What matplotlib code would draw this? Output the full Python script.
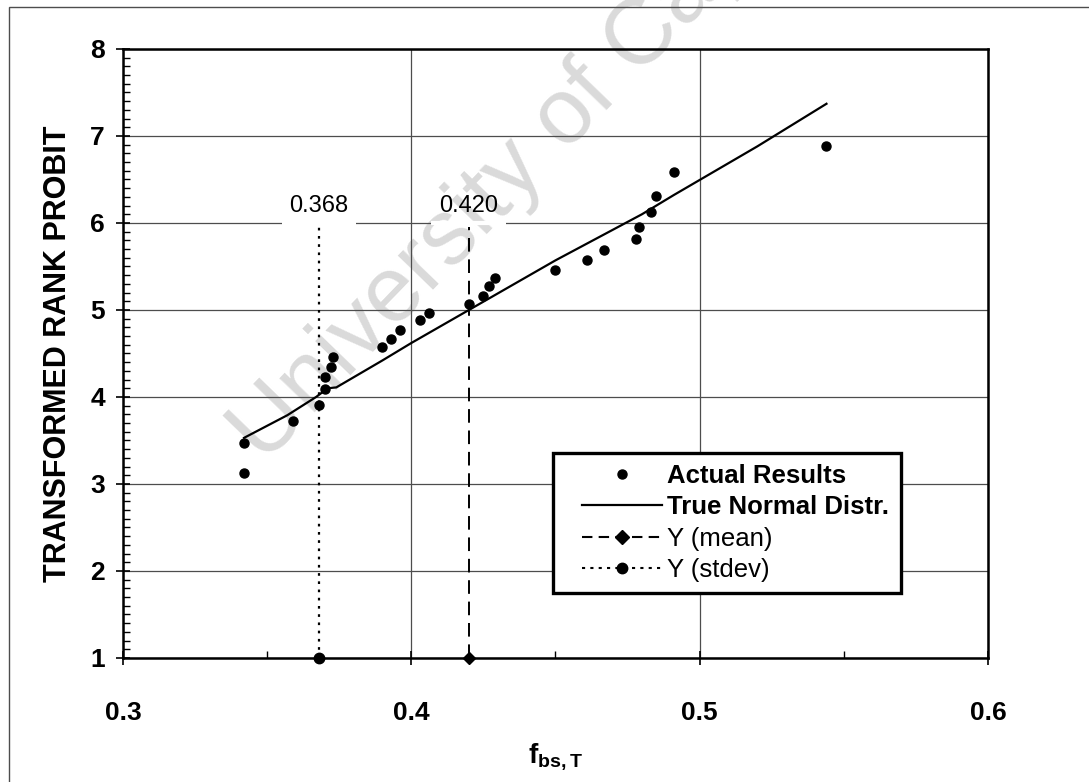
import numpy as np
import matplotlib
matplotlib.use('Agg')
import matplotlib.pyplot as plt
from matplotlib.lines import Line2D
from matplotlib.legend_handler import HandlerLine2D
from matplotlib.patches import Rectangle

plt.rcParams['font.family'] = ['Liberation Sans', 'DejaVu Sans']
plt.rcParams['mathtext.fontset'] = 'custom'
plt.rcParams['mathtext.rm'] = 'Liberation Sans'
plt.rcParams['mathtext.bf'] = 'Liberation Sans:bold'

# actual results (fbs,T vs transformed rank probit)
actual_x = [0.342, 0.342, 0.359, 0.368, 0.370, 0.370, 0.372, 0.373, 0.390, 0.393,
            0.396, 0.403, 0.406, 0.420, 0.425, 0.427, 0.429, 0.450, 0.461, 0.467,
            0.478, 0.479, 0.483, 0.485, 0.491, 0.544]
actual_y = [3.13, 3.47, 3.72, 3.91, 4.09, 4.23, 4.35, 4.46, 4.58, 4.67,
            4.77, 4.88, 4.97, 5.07, 5.16, 5.28, 5.37, 5.46, 5.58, 5.69,
            5.81, 5.95, 6.13, 6.31, 6.58, 6.89]

# true normal distribution line
normal_x = [0.342, 0.357, 0.367, 0.371, 0.374, 0.390, 0.400, 0.420, 0.430,
            0.450, 0.480, 0.491, 0.520, 0.544]
normal_y = [3.53, 3.79, 4.00, 4.10, 4.11, 4.42, 4.62, 5.00, 5.19,
            5.57, 6.10, 6.32, 6.88, 7.37]

mean_val = 0.420
stdev_val = 0.368
marker_y = [1, 5.95]

fig = plt.figure(figsize=(10.89, 7.82), dpi=100)
ax = fig.add_axes([0.1129, 0.1586, 0.7943, 0.7788])
ax.patch.set_alpha(0)

ax.set_xlim(0.3, 0.6)
ax.set_ylim(1, 8)
ax.set_xticks([0.3, 0.4, 0.5, 0.6])
ax.set_xticks([0.35, 0.45, 0.55], minor=True)
ax.set_yticks(range(1, 9))
ax.set_yticks(np.arange(1, 8.01, 0.1), minor=True)
ax.grid(True, which='major', color='0.3', linewidth=0.9)
ax.set_axisbelow(True)

ax.tick_params(which='major', direction='inout', length=10, width=1.2)
ax.tick_params(which='minor', direction='in', length=5, width=1.0)
ax.tick_params(axis='x', which='major', pad=26, labelsize=19)
ax.tick_params(axis='y', which='major', pad=8, labelsize=19)
ax.set_xticklabels(['0.3', '0.4', '0.5', '0.6'], fontweight='bold')
ax.set_yticklabels([str(i) for i in range(1, 9)], fontweight='bold')
for s in ax.spines.values():
    s.set_linewidth(1.8)

ax.plot(normal_x, normal_y, color='black', linewidth=1.6, zorder=3)
ax.plot(actual_x, actual_y, 'o', color='black', markersize=6.5, zorder=4)
ax.plot([mean_val, mean_val], marker_y, color='black', linestyle=(0, (7, 4)),
        linewidth=1.4, marker='D', markersize=6.5, markevery=[0], zorder=3,
        clip_on=False)
ax.plot([stdev_val, stdev_val], marker_y, color='black', linestyle=(0, (1.2, 2.5)),
        linewidth=1.6, marker='o', markersize=7.5, markevery=[0], zorder=3,
        clip_on=False)

# data labels: gridline is broken where the label box sits
for v in [stdev_val, mean_val]:
    ax.plot([v - 0.013, v + 0.013], [6, 6], color='white', linewidth=3, zorder=0.8,
            solid_capstyle='butt')
    ax.text(v, 6.2, '%.3f' % v, ha='center', va='center', fontsize=17, zorder=3)

ax.set_ylabel('TRANSFORMED RANK PROBIT', fontsize=22, fontweight='bold', labelpad=12)
ax.set_xlabel(r'$\mathbf{f}_{\mathbf{bs,T}}$', fontsize=20, labelpad=12)

handles = [
    Line2D([], [], color='black', marker='o', linestyle='none', markersize=6.5),
    Line2D([], [], color='black', linewidth=1.6),
    Line2D([], [], color='black', linestyle=(0, (5, 3)), marker='D', markersize=7),
    Line2D([], [], color='black', linestyle=(0, (1.5, 2.5)), marker='o', markersize=7.5),
]
labels = ['Actual Results', 'True Normal Distr.', 'Y (mean)', 'Y (stdev)']
leg = ax.legend(handles, labels, loc='upper left', bbox_to_anchor=(0.497, 0.337),
                fontsize=18.5, frameon=True, fancybox=False, framealpha=1,
                edgecolor='black', handlelength=3.8, handletextpad=0.2,
                labelspacing=0.28, borderpad=0.45, borderaxespad=0,
                handler_map={Line2D: HandlerLine2D(xpad=0.7)})
leg.get_frame().set_linewidth(2.4)
leg.set_zorder(5)
for t in leg.get_texts()[:2]:
    t.set_fontweight('bold')

# watermark, behind the chart
fig.text(0.243, 0.405, 'University of Cape Town', fontsize=67, color='#dadada',
         rotation=46, rotation_mode='anchor', ha='left', va='baseline', zorder=-1)

# chart border
fig.add_artist(Rectangle((0.008, -0.01), 1.2, 1.001, transform=fig.transFigure,
                         fill=False, edgecolor='0.3', linewidth=1.0))

fig.savefig('out.png', dpi=100)
